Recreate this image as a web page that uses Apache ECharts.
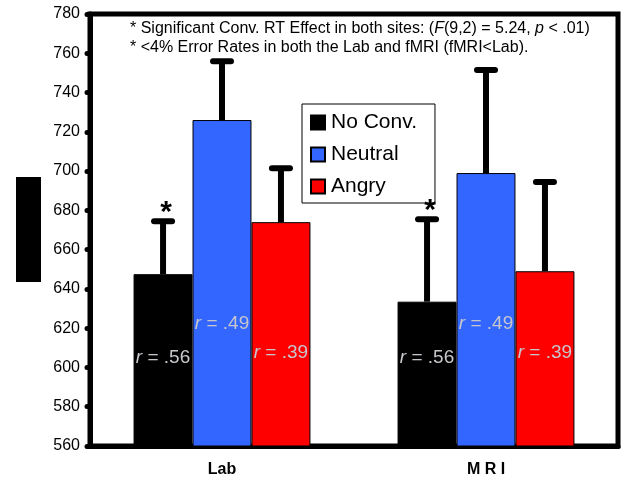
<!DOCTYPE html>
<html>
<head>
<meta charset="utf-8">
<script src="https://cdn.jsdelivr.net/npm/echarts@6/dist/echarts.min.js"></script>
<style>
  html, body { margin: 0; padding: 0; background: #fff; }
  #chart { width: 621px; height: 481px; }
</style>
</head>
<body>
<div id="chart"></div>
<script>
// sites
const categories = ["Lab", "M R I"];
// mean RT per condition
const noConv = [647.5, 633.5];
const neutral = [726, 699];
const angry = [674, 649];
// upper error (ms above the mean)
const noConvErr = [27, 42];
const neutralErr = [30, 52.5];
const angryErr = [27.5, 45.5];
// correlation labels
const noConvR = [".56", ".56"];
const neutralR = [".49", ".49"];
const angryR = [".39", ".39"];
// significance stars
const noConvStar = [true, true];

const FONT = "Liberation Sans, Arial, sans-serif";
const GAP = 0.33;

function rLabel(vals, dist) {
  return {
    show: true,
    position: "insideBottom",
    distance: dist,
    formatter: (p) => "{i|r} = " + vals[p.dataIndex],
    color: "#c6c6cc",
    fontSize: 19,
    fontFamily: FONT,
    rich: { i: { fontStyle: "italic", fontSize: 19, color: "#c6c6cc", fontFamily: FONT } },
  };
}

function errSeries(vals, errs, k, stars) {
  return {
    type: "custom",
    z: 5,
    silent: true,
    encode: { x: 0, y: 1 },
    data: vals.map((v, i) => [i, v, errs[i]]),
    renderItem: function (params, api) {
      const idx = api.value(0);
      const base = api.coord([idx, api.value(1)]);
      const top = api.coord([idx, api.value(1) + api.value(2)]);
      const catW = api.size([1, 0])[0];
      const bw = (catW * (1 - GAP)) / 3;
      const x = base[0] + (k - 1) * bw;
      const style = { stroke: "#000", lineWidth: 6, lineCap: "round" };
      const children = [
        { type: "line", shape: { x1: x, y1: base[1], x2: x, y2: top[1] }, style: { stroke: "#000", lineWidth: 6 } },
        { type: "line", shape: { x1: x - 9, y1: top[1], x2: x + 9, y2: top[1] }, style: style },
      ];
      if (stars && stars[params.dataIndex]) {
        children.push({
          type: "text",
          x: x + 3,
          y: top[1] - 8,
          style: { text: "*", fontSize: 30, fontWeight: "bold", fontFamily: FONT, align: "center", verticalAlign: "middle", fill: "#000" },
        });
      }
      return { type: "group", children: children };
    },
  };
}

const chart = echarts.init(document.getElementById("chart"));
chart.setOption({
  animation: false,
  grid: {
    left: 90, right: 3, top: 14, bottom: 35,
    show: true, borderColor: "#000", borderWidth: 5,
  },
  legend: {
    data: ["No Conv.", "Neutral", "Angry"],
    orient: "vertical",
    left: 302, top: 104,
    backgroundColor: "#fff",
    borderColor: "#000",
    borderWidth: 1,
    borderRadius: 0,
    padding: [8, 18, 6, 8],
    itemGap: 11,
    itemWidth: 14,
    itemHeight: 14,
    icon: "rect",
    textStyle: { fontSize: 21, color: "#000", fontFamily: FONT, padding: [0, 0, 0, 1] },
  },
  graphic: [
    { type: "rect", left: 16, top: 177, shape: { width: 25, height: 105 }, style: { fill: "#000" } },
    {
      type: "text", left: 130, top: 21,
      style: {
        text: "* Significant Conv. RT Effect in both sites: ({i|F}(9,2) = 5.24, {i|p} < .01)",
        fontSize: 16, fontFamily: FONT, fill: "#000",
        rich: { i: { fontStyle: "italic", fontSize: 16, fontFamily: FONT } },
      },
    },
    {
      type: "text", left: 130, top: 40,
      style: { text: "* <4% Error Rates in both the Lab and fMRI (fMRI<Lab).", fontSize: 16, fontFamily: FONT, fill: "#000" },
    },
  ],
  xAxis: {
    type: "category",
    data: categories,
    axisLine: { lineStyle: { color: "#000", width: 5 } },
    axisTick: { length: 3, lineStyle: { color: "#000", width: 5, cap: "round" } },
    axisLabel: { margin: 16, fontSize: 16, fontWeight: "bold", color: "#000", fontFamily: FONT },
  },
  yAxis: {
    type: "value",
    min: 560, max: 780, interval: 20,
    splitLine: { show: false },
    axisLine: { show: true, lineStyle: { color: "#000", width: 5 } },
    axisTick: { show: true, length: 3, lineStyle: { color: "#000", width: 5, cap: "round" } },
    axisLabel: { margin: 10, fontSize: 16, color: "#000", fontFamily: FONT },
  },
  series: [
    {
      name: "No Conv.", type: "bar", data: noConv,
      barGap: "0%", barCategoryGap: GAP * 100 + "%",
      itemStyle: { color: "#000", borderColor: "#000", borderWidth: 1 },
      label: rLabel(noConvR, 79),
    },
    {
      name: "Neutral", type: "bar", data: neutral,
      itemStyle: { color: "#3366ff", borderColor: "#000", borderWidth: 1 },
      label: rLabel(neutralR, 113),
    },
    {
      name: "Angry", type: "bar", data: angry,
      itemStyle: { color: "#ff0000", borderColor: "#000", borderWidth: 1 },
      label: rLabel(angryR, 84),
    },
    errSeries(noConv, noConvErr, 0, noConvStar),
    errSeries(neutral, neutralErr, 1, null),
    errSeries(angry, angryErr, 2, null),
  ],
});
</script>
</body>
</html>
